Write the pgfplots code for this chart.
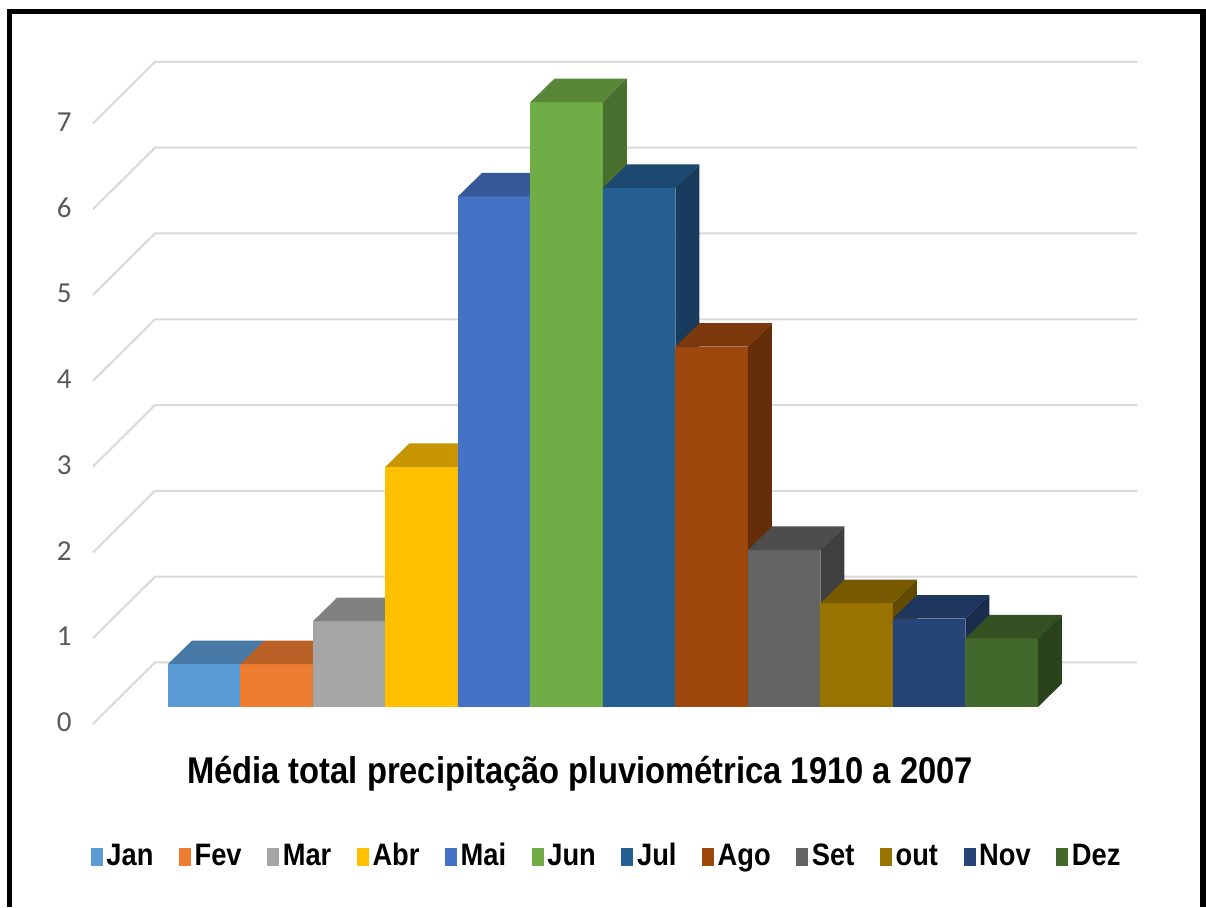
\documentclass[border=0pt]{standalone}
\usepackage{pgfplots}
\pgfplotsset{compat=1.18}
\usepackage{fontspec}
\setmainfont{Carlito}
\newfontfamily\nb{Liberation Sans}[FakeStretch=0.88]
\definecolor{cJan}{HTML}{5B9BD5}
\definecolor{cFev}{HTML}{ED7D31}
\definecolor{cMar}{HTML}{A5A5A5}
\definecolor{cAbr}{HTML}{FFC000}
\definecolor{cMai}{HTML}{4472C4}
\definecolor{cJun}{HTML}{70AD47}
\definecolor{cJul}{HTML}{255E91}
\definecolor{cAgo}{HTML}{9E480E}
\definecolor{cSet}{HTML}{636363}
\definecolor{cOut}{HTML}{997300}
\definecolor{cNov}{HTML}{264478}
\definecolor{cDez}{HTML}{43682B}
\definecolor{gridc}{HTML}{D9D9D9}
\definecolor{labgray}{HTML}{595959}
\pgfplotsset{
  front/.style={ybar, bar width=1, bar shift=0pt, fill=#1, draw=none},
  topf/.style={fill=#1!78!black, draw=none, forget plot},
  sidef/.style={fill=#1!64!black, draw=none, forget plot},
  gl/.style={gridc, line width=1pt, forget plot},
}
\begin{document}
\begin{tikzpicture}
\useasboundingbox (0,0) rectangle (603pt,453.5pt);
\fill[white] (0,0) rectangle (603pt,453.5pt);
% frame
\fill[black] (3.5pt,0) rectangle (6pt,449pt);
\fill[black] (3.5pt,446.5pt) rectangle (603pt,449pt);
\fill[black] (600pt,0) rectangle (603pt,449pt);
\begin{axis}[
  at={(46.5pt,89.275pt)}, anchor=south west,
  x=36.25pt, y=42.9pt,
  xmin=-1.534, xmax=12.9, ymin=-0.25, ymax=7.6,
  enlargelimits=false, clip=false,
  axis line style={draw=none},
  major tick length=0pt,
  xtick=\empty,
  ytick={-0.18,0.82,1.82,2.82,3.82,4.82,5.82,6.82},
  yticklabels={0,1,2,3,4,5,6,7},
  yticklabel style={text=labgray, font=\fontsize{14.5}{14.5}\selectfont, inner sep=0pt, xshift=-10.5pt},
  /pgf/number format/assume math mode=true,
  legend columns=12,
  legend style={at={(0.4916,-0.1909)}, anchor=center, draw=none, fill=none,
    font=\nb\bfseries\fontsize{15.5}{15.5}\selectfont,
    nodes={inner xsep=1.8pt, inner ysep=0pt, text height=11pt, text depth=3pt},
    /tikz/every even column/.append style={column sep=11pt}},
  legend image code/.code={\fill[#1] (0pt,-4.5pt) rectangle (6pt,4.5pt);},
]
% grid lines
\addplot[gl] coordinates {(-1.534,-0.198) (-0.679,0.519) (12.866,0.519)};
\addplot[gl] coordinates {(-1.534,0.802) (-0.679,1.519) (12.866,1.519)};
\addplot[gl] coordinates {(-1.534,1.802) (-0.679,2.519) (12.866,2.519)};
\addplot[gl] coordinates {(-1.534,2.802) (-0.679,3.519) (12.866,3.519)};
\addplot[gl] coordinates {(-1.534,3.802) (-0.679,4.519) (12.866,4.519)};
\addplot[gl] coordinates {(-1.534,4.802) (-0.679,5.519) (12.866,5.519)};
\addplot[gl] coordinates {(-1.534,5.802) (-0.679,6.519) (12.866,6.519)};
\addplot[gl] coordinates {(-1.534,6.802) (-0.679,7.519) (12.866,7.519)};
% Jan
\addplot[front=cJan] coordinates {(0,0.5)};
\addplot[topf=cJan] coordinates {(-0.5,0.5) (0.5,0.5) (0.831,0.774) (-0.169,0.774)} --cycle;
\addplot[sidef=cJan] coordinates {(0.5,0) (0.5,0.5) (0.831,0.774) (0.831,0.274)} --cycle;
% Fev
\addplot[front=cFev] coordinates {(1,0.5)};
\addplot[topf=cFev] coordinates {(0.5,0.5) (1.5,0.5) (1.831,0.774) (0.831,0.774)} --cycle;
\addplot[sidef=cFev] coordinates {(1.5,0) (1.5,0.5) (1.831,0.774) (1.831,0.274)} --cycle;
% Mar
\addplot[front=cMar] coordinates {(2,1.0)};
\addplot[topf=cMar] coordinates {(1.5,1.0) (2.5,1.0) (2.831,1.274) (1.831,1.274)} --cycle;
\addplot[sidef=cMar] coordinates {(2.5,0) (2.5,1.0) (2.831,1.274) (2.831,0.274)} --cycle;
% Abr
\addplot[front=cAbr] coordinates {(3,2.8)};
\addplot[topf=cAbr] coordinates {(2.5,2.8) (3.5,2.8) (3.831,3.074) (2.831,3.074)} --cycle;
\addplot[sidef=cAbr] coordinates {(3.5,0) (3.5,2.8) (3.831,3.074) (3.831,0.274)} --cycle;
% Mai
\addplot[front=cMai] coordinates {(4,5.95)};
\addplot[topf=cMai] coordinates {(3.5,5.95) (4.5,5.95) (4.831,6.224) (3.831,6.224)} --cycle;
\addplot[sidef=cMai] coordinates {(4.5,0) (4.5,5.95) (4.831,6.224) (4.831,0.274)} --cycle;
% Jun
\addplot[front=cJun] coordinates {(5,7.05)};
\addplot[topf=cJun] coordinates {(4.5,7.05) (5.5,7.05) (5.831,7.324) (4.831,7.324)} --cycle;
\addplot[sidef=cJun] coordinates {(5.5,0) (5.5,7.05) (5.831,7.324) (5.831,0.274)} --cycle;
% Jul
\addplot[front=cJul] coordinates {(6,6.05)};
\addplot[topf=cJul] coordinates {(5.5,6.05) (6.5,6.05) (6.831,6.324) (5.831,6.324)} --cycle;
\addplot[sidef=cJul] coordinates {(6.5,0) (6.5,6.05) (6.831,6.324) (6.831,0.274)} --cycle;
% Ago
\addplot[front=cAgo] coordinates {(7,4.2)};
\addplot[topf=cAgo] coordinates {(6.5,4.2) (7.5,4.2) (7.831,4.474) (6.831,4.474)} --cycle;
\addplot[sidef=cAgo] coordinates {(7.5,0) (7.5,4.2) (7.831,4.474) (7.831,0.274)} --cycle;
% Set
\addplot[front=cSet] coordinates {(8,1.83)};
\addplot[topf=cSet] coordinates {(7.5,1.83) (8.5,1.83) (8.831,2.104) (7.831,2.104)} --cycle;
\addplot[sidef=cSet] coordinates {(8.5,0) (8.5,1.83) (8.831,2.104) (8.831,0.274)} --cycle;
% out
\addplot[front=cOut] coordinates {(9,1.21)};
\addplot[topf=cOut] coordinates {(8.5,1.21) (9.5,1.21) (9.831,1.484) (8.831,1.484)} --cycle;
\addplot[sidef=cOut] coordinates {(9.5,0) (9.5,1.21) (9.831,1.484) (9.831,0.274)} --cycle;
% Nov
\addplot[front=cNov] coordinates {(10,1.03)};
\addplot[topf=cNov] coordinates {(9.5,1.03) (10.5,1.03) (10.831,1.304) (9.831,1.304)} --cycle;
\addplot[sidef=cNov] coordinates {(10.5,0) (10.5,1.03) (10.831,1.304) (10.831,0.274)} --cycle;
% Dez
\addplot[front=cDez] coordinates {(11,0.8)};
\addplot[topf=cDez] coordinates {(10.5,0.8) (11.5,0.8) (11.831,1.074) (10.831,1.074)} --cycle;
\addplot[sidef=cDez] coordinates {(11.5,0) (11.5,0.8) (11.831,1.074) (11.831,0.274)} --cycle;
\legend{Jan,Fev,Mar,Abr,Mai,Jun,Jul,Ago,Set,out,Nov,Dez}
\end{axis}
\node[font=\nb\bfseries\fontsize{18.6}{18.6}\selectfont, inner sep=0pt, anchor=base] at (290pt,62pt) {Média total precipitação pluviométrica 1910 a 2007};
\end{tikzpicture}
\end{document}
